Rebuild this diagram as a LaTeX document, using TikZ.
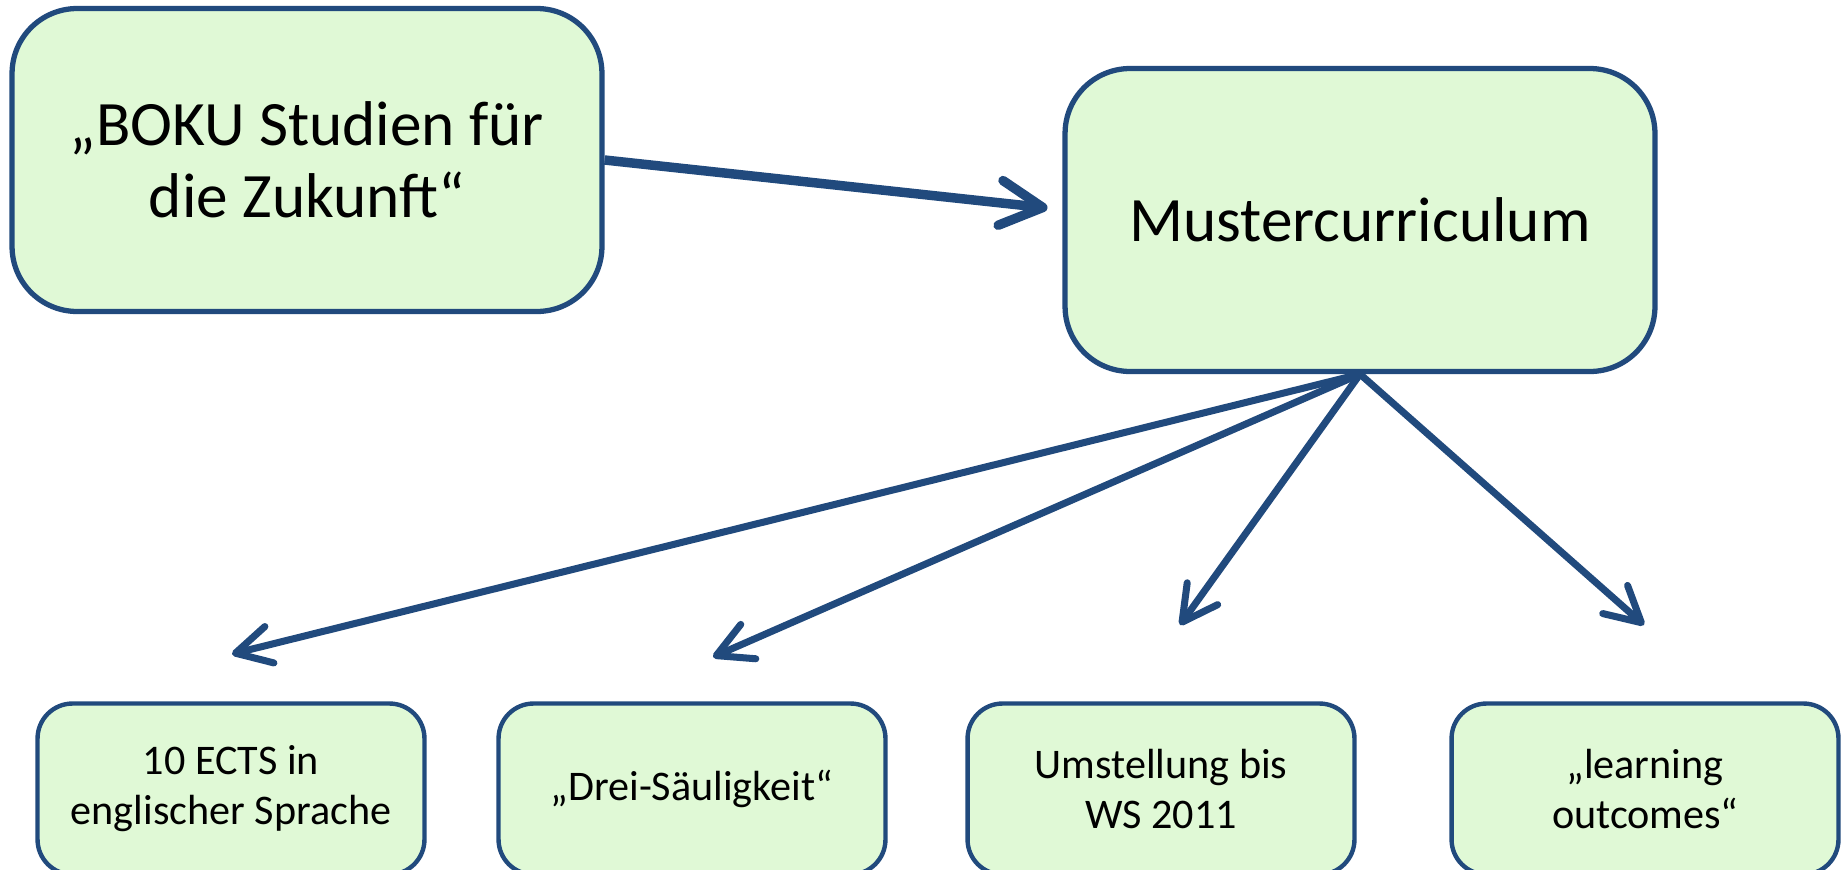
\documentclass[tikz,border=0pt]{standalone}
\usepackage{fontspec}
\setmainfont{Carlito}
\usetikzlibrary{arrows.meta}
\definecolor{boxfill}{RGB}{224,249,214}
\definecolor{boxline}{RGB}{33,74,125}

\begin{document}
\begin{tikzpicture}[x=0.02cm,y=-0.02cm,>={Straight Barb[length=0.7cm,width=0.75cm,line cap=round,line join=round]},
  every node/.style={fill=boxfill,draw=boxline,line width=3pt,align=center},
  bigbox/.style={rounded corners=1.3cm,minimum width=11.8cm,minimum height=6.06cm,font=\fontsize{36}{41}\selectfont},
  smallbox/.style={rounded corners=0.7cm,minimum width=7.74cm,minimum height=3.42cm,line width=2.5pt,font=\fontsize{24}{28.5}\selectfont},
  link/.style={color=boxline,line width=4pt}]

\useasboundingbox (0,0) rectangle (1841,869);

\node[bigbox]   (boku)  at (307,160)   {„BOKU Studien für\\die Zukunft“};
 \node[bigbox]  (mc)    at (1360,220)  {Mustercurriculum};

	\node[smallbox] (ects)   at (231,789)   {10 ECTS in\\englischer Sprache};
	\node[smallbox] (drei)   at (692,789)   {„Drei-Säuligkeit“};
	\node[smallbox] (ws)     at (1161,789)  {Umstellung bis\\WS 2011};
	\node[smallbox] (lo)     at (1645,789)  {„learning\\outcomes“};

\coordinate (t1) at (232,654);
\coordinate (t2) at (713,657);
\coordinate (t3) at (1180,625);
\coordinate (t4) at (1644,625);

	\path[->,link,line width=5.4pt,shorten >=0.3cm,>={Straight Barb[length=0.85cm,width=0.9cm,line cap=round,line join=round]}]
		(boku.east) edge (mc.178);

	\path[->,link] (mc.south) edge (t1)
					edge (t2)
					edge (t3)
					edge (t4);

\end{tikzpicture}
\end{document}
